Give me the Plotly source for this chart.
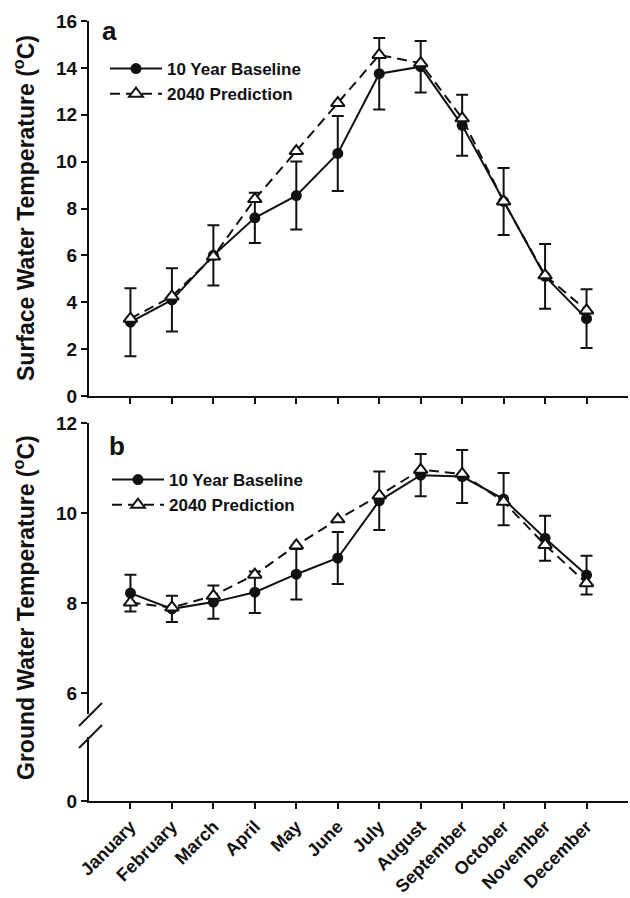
import plotly.graph_objects as go

months = ["January", "February", "March", "April", "May", "June", "July",
          "August", "September", "October", "November", "December"]

# Panel a: surface water temperature (°C)
surface_baseline = [3.15, 4.1, 6.0, 7.6, 8.55, 10.35, 13.75, 14.05, 11.55, 8.3, 5.1, 3.3]
surface_baseline_err = [1.45, 1.35, 1.28, 1.07, 1.45, 1.6, 1.53, 1.1, 1.3, 1.43, 1.38, 1.25]
surface_2040 = [3.3, 4.25, 5.95, 8.4, 10.45, 12.5, 14.55, 14.2, 11.85, 8.3, 5.15, 3.65]

# Panel b: ground water temperature (°C)
ground_baseline = [8.22, 7.87, 8.02, 8.24, 8.64, 9.0, 10.27, 10.84, 10.81, 10.31, 9.44, 8.62]
ground_baseline_err = [0.41, 0.29, 0.37, 0.46, 0.56, 0.58, 0.65, 0.47, 0.59, 0.58, 0.5, 0.43]
ground_2040 = [8.01, 7.9, 8.16, 8.63, 9.28, 9.86, 10.39, 10.96, 10.87, 10.25, 9.29, 8.44]

FONT = "Liberation Sans, Arial, Helvetica, sans-serif"
BLACK = "#111111"

# Pixel geometry helpers (plot area: x 89..628, y 21..801)
L, R, T, B = 89, 628, 21, 801
W, H = R - L, B - T


def px_x(p):
    return (p - L) / W


def px_y(p):
    return (B - p) / H


fig = go.Figure()


def add_pair(xa, ya, base, err, pred, legend):
    fig.add_trace(go.Scatter(
        x=months, y=base, xaxis=xa, yaxis=ya, name="10 Year Baseline",
        mode="lines+markers", legend=legend,
        line=dict(color=BLACK, width=2),
        marker=dict(symbol="circle", size=11, color=BLACK),
        error_y=dict(type="data", array=err, visible=True, color=BLACK,
                     thickness=2, width=6),
    ))
    fig.add_trace(go.Scatter(
        x=months, y=pred, xaxis=xa, yaxis=ya, name="2040 Prediction",
        mode="lines+markers", legend=legend,
        line=dict(color=BLACK, width=2, dash="10px,6px"),
        marker=dict(symbol="triangle-up", size=12, color="white",
                    line=dict(color=BLACK, width=2)),
    ))


add_pair("x", "y", surface_baseline, surface_baseline_err, surface_2040, "legend")
add_pair("x2", "y2", ground_baseline, ground_baseline_err, ground_2040, "legend2")

# Empty trace so the lower (broken) segment of the ground-water axis exists
fig.add_trace(go.Scatter(x=[], y=[], xaxis="x2", yaxis="y3", showlegend=False,
                         hoverinfo="skip"))

axis_common = dict(showline=True, linewidth=2, linecolor=BLACK, ticks="outside",
                   ticklen=6, tickwidth=2, tickcolor=BLACK, showgrid=False,
                   zeroline=False, mirror=False, automargin=False,
                   tickfont=dict(family=FONT, size=19, color=BLACK, weight="bold"))

legend_font = dict(family=FONT, size=17, color=BLACK, weight="bold")

fig.update_layout(
    width=630, height=898,
    margin=dict(l=L, r=630 - R, t=T, b=898 - B),
    paper_bgcolor="white", plot_bgcolor="white",
    showlegend=True,
    xaxis=dict(axis_common, type="category", range=[-1, 12], anchor="y",
               showticklabels=False, categoryorder="array", categoryarray=months),
    yaxis=dict(axis_common, domain=[px_y(396), 1.0], range=[0, 16], dtick=2,
               anchor="x"),
    xaxis2=dict(axis_common, type="category", range=[-1, 12], anchor="y3",
                tickangle=-45, categoryorder="array", categoryarray=months,
                tickfont=dict(family=FONT, size=18, color=BLACK, weight="bold")),
    yaxis2=dict(axis_common, domain=[px_y(714), px_y(423)],
                range=[12 - (714 - 423) / 45, 12], tickvals=[6, 8, 10, 12],
                anchor="x2"),
    yaxis3=dict(axis_common, domain=[0, px_y(737)], range=[0, (801 - 737) / 45],
                tickvals=[0], anchor="x2"),
    legend=dict(x=px_x(105), y=px_y(51), xanchor="left", yanchor="top",
                bgcolor="rgba(0,0,0,0)", itemwidth=52, tracegroupgap=0,
                font=legend_font),
    legend2=dict(x=px_x(107), y=px_y(462), xanchor="left", yanchor="top",
                 bgcolor="rgba(0,0,0,0)", itemwidth=52, tracegroupgap=0,
                 font=legend_font),
)

title_font = dict(family=FONT, size=23, color=BLACK, weight="bold")
fig.add_annotation(text="Surface Water Temperature (<sup>o</sup>C)", textangle=-90,
                   xref="paper", yref="paper", x=px_x(24), y=px_y(208),
                   xanchor="center", yanchor="middle", showarrow=False, font=title_font)
fig.add_annotation(text="Ground Water Temperature (<sup>o</sup>C)", textangle=-90,
                   xref="paper", yref="paper", x=px_x(24), y=px_y(608),
                   xanchor="center", yanchor="middle", showarrow=False, font=title_font)

label_font = dict(family=FONT, size=26, color=BLACK, weight="bold")
fig.add_annotation(text="a", xref="paper", yref="paper", x=px_x(109), y=px_y(31),
                   xanchor="center", yanchor="middle", showarrow=False, font=label_font)
fig.add_annotation(text="b", xref="paper", yref="paper", x=px_x(117), y=px_y(446),
                   xanchor="center", yanchor="middle", showarrow=False, font=label_font)

# Axis-break marks on the ground water y axis
for y0, y1 in [(726, 703), (748, 725)]:
    fig.add_shape(type="line", xref="paper", yref="paper",
                  x0=px_x(79), y0=px_y(y0), x1=px_x(102), y1=px_y(y1),
                  line=dict(color=BLACK, width=2))

fig.write_html("out.html")
